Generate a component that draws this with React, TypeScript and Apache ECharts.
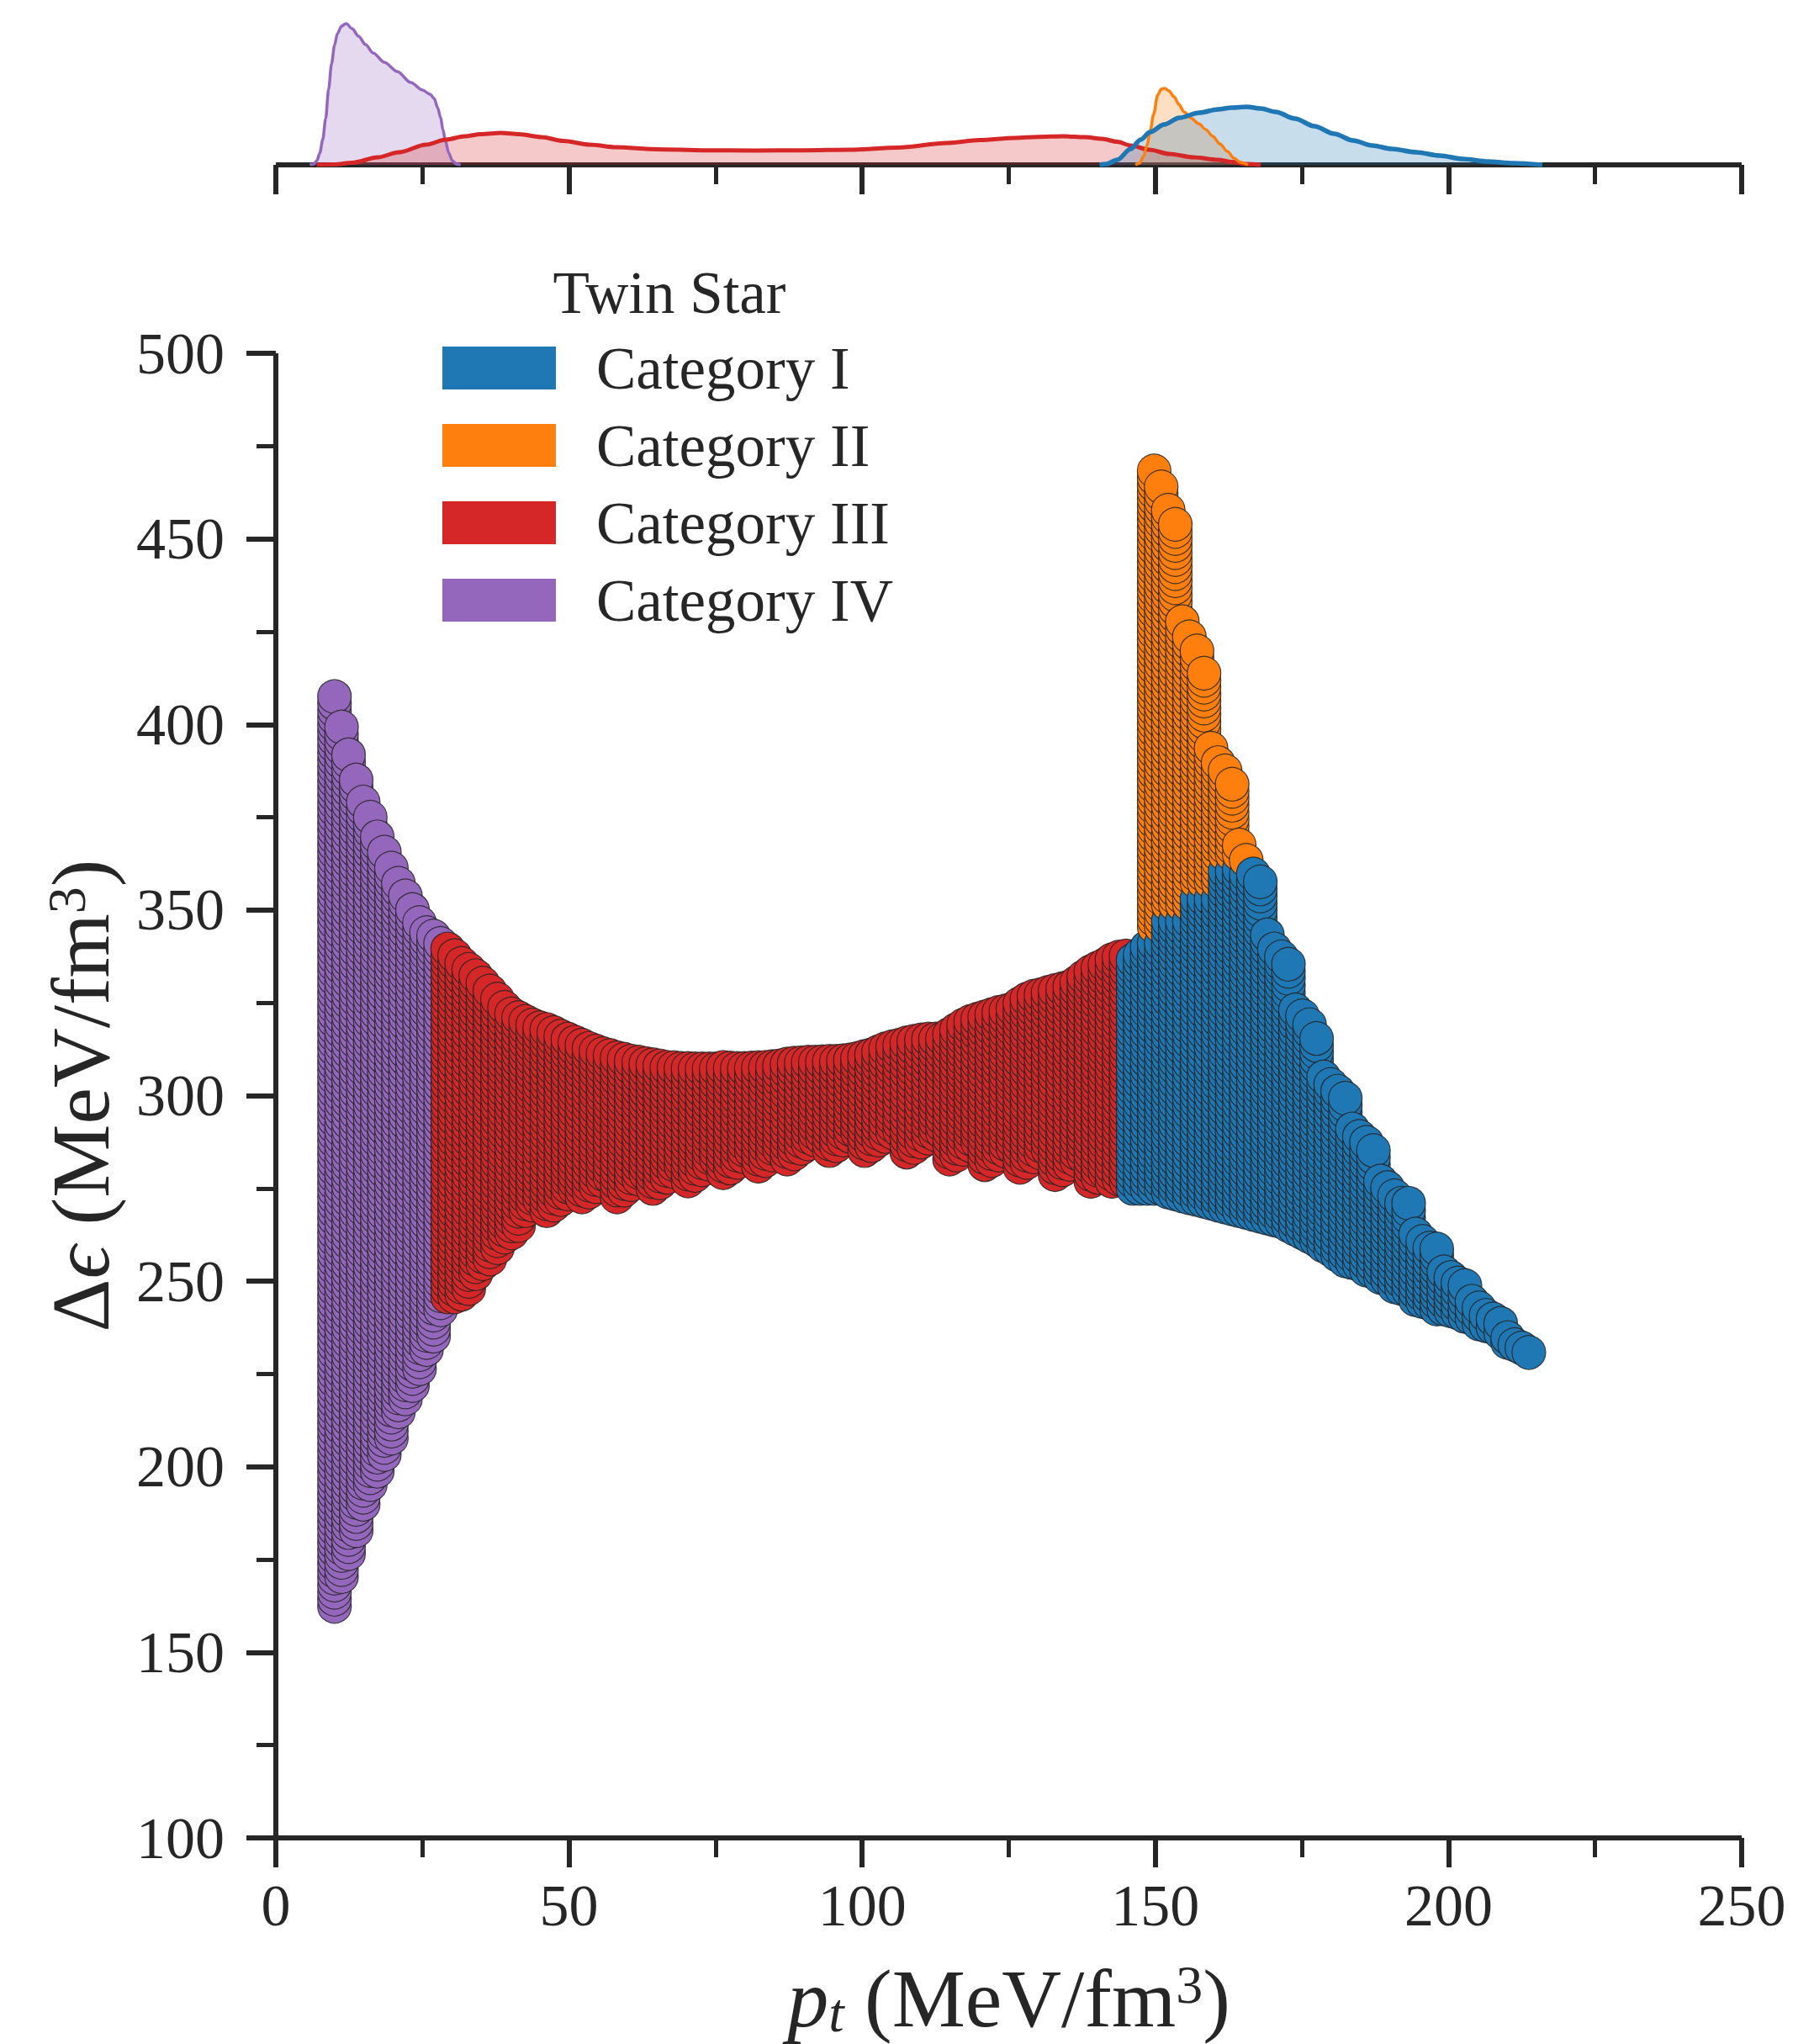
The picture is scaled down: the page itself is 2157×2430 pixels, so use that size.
import React, { useEffect, useRef } from 'react';
import * as echarts from 'echarts';

// ---------------------------------------------------------------------------
// Data: twin-star parameter scan, Δϵ versus p_t, split into four categories.
// Each scan column is [p_t, lowest Δϵ, highest Δϵ]; points in a column are
// spaced by ROW_STEP in Δϵ.
// ---------------------------------------------------------------------------
const CATEGORY_NAMES = ['Category I', 'Category II', 'Category III', 'Category IV'];
const CATEGORY_COLORS = ['#1f77b4', '#ff7f0e', '#d62728', '#9467bd'];
const ROW_STEP = 1.9;

const COLUMNS_IV = [
  [10.0, 162.4, 407.5], [11.2, 170.4, 399.3], [12.4, 176.6, 391.8], [13.7, 182.8, 385.0],
  [14.9, 189.9, 379.1], [16.1, 195.2, 375.0], [17.3, 198.8, 369.7], [18.5, 203.3, 365.6],
  [19.7, 207.7, 361.3], [20.9, 214.8, 357.2], [22.1, 218.3, 353.8], [23.3, 221.9, 350.1],
  [24.5, 226.4, 346.6], [25.7, 231.6, 343.9], [26.9, 235.2, 343.0], [28.1, 242.3, 341.0],
];

const COLUMNS_III = [
  [29.3, 245.8, 339.5], [30.5, 245.8, 337.7], [31.7, 246.5, 335.6], [32.9, 248.0, 334.0],
  [34.1, 252.0, 332.3], [35.3, 254.7, 330.3], [36.5, 256.0, 328.2], [37.8, 259.0, 326.0],
  [39.0, 261.9, 323.8], [40.2, 263.0, 322.0], [41.4, 265.0, 321.0], [42.6, 269.0, 320.0],
  [43.8, 270.5, 319.0], [45.0, 272.0, 318.3], [46.2, 269.0, 317.8], [47.4, 270.5, 317.0],
  [48.6, 272.0, 316.0], [49.8, 273.5, 315.2], [51.0, 275.0, 314.4], [52.2, 272.7, 313.6],
  [53.4, 274.0, 312.7], [54.6, 275.5, 312.0], [55.8, 277.0, 311.3], [57.0, 278.0, 310.8],
  [58.2, 272.7, 310.2], [59.4, 274.5, 309.8], [60.6, 276.0, 309.3], [61.9, 277.5, 309.0],
  [63.1, 279.0, 308.6], [64.3, 275.0, 308.3], [65.5, 276.5, 308.0], [66.7, 278.0, 307.6],
  [67.9, 279.5, 307.5], [69.1, 281.0, 307.3], [70.3, 277.0, 307.3], [71.5, 278.5, 307.2],
  [72.7, 280.0, 307.2], [73.9, 281.5, 307.2], [75.1, 283.0, 307.2], [76.3, 279.2, 307.6],
  [77.5, 280.5, 307.4], [78.7, 282.0, 307.3], [79.9, 283.5, 307.3], [81.1, 285.0, 307.4],
  [82.3, 281.0, 307.5], [83.5, 282.5, 307.6], [84.7, 284.0, 307.8], [85.9, 285.5, 308.0],
  [87.2, 282.9, 308.5], [88.4, 284.3, 308.7], [89.6, 285.8, 308.8], [90.8, 287.0, 309.0],
  [92.0, 288.0, 309.0], [93.2, 288.5, 309.1], [94.4, 285.2, 309.2], [95.6, 286.5, 309.2],
  [96.8, 288.0, 309.4], [98.0, 289.0, 309.6], [99.2, 290.0, 310.0], [100.4, 285.2, 310.5],
  [101.6, 286.5, 311.0], [102.8, 288.0, 311.8], [104.0, 289.0, 312.6], [105.2, 290.0, 313.2],
  [106.4, 290.5, 313.6], [107.6, 284.8, 314.2], [108.8, 286.0, 314.6], [110.1, 287.5, 315.0],
  [111.3, 288.5, 315.2], [112.5, 289.5, 315.2], [113.7, 290.0, 315.4], [114.9, 282.9, 316.5],
  [116.1, 284.0, 317.8], [117.3, 285.5, 319.0], [118.5, 286.5, 320.0], [119.7, 287.5, 320.6],
  [120.9, 281.4, 321.2], [122.1, 282.5, 321.8], [123.3, 284.0, 322.4], [124.5, 285.0, 322.8],
  [125.7, 286.0, 323.4], [126.9, 280.7, 324.8], [128.1, 282.0, 326.0], [129.3, 283.5, 326.8],
  [130.5, 284.5, 327.2], [131.7, 285.5, 327.8], [132.9, 278.7, 328.3], [134.2, 280.0, 328.8],
  [135.4, 281.5, 329.3], [136.6, 282.5, 330.5], [137.8, 283.5, 332.0], [139.0, 276.9, 333.4],
  [140.2, 278.0, 334.4], [141.4, 279.5, 335.3], [142.6, 276.9, 336.6], [143.8, 277.5, 337.3],
  [145.0, 277.0, 337.6],
];

const COLUMNS_I = [
  [146.2, 275.0, 336.5], [147.4, 275.0, 338.0], [148.6, 275.0, 340.0], [149.8, 275.0, 341.0],
  [151.0, 275.0, 341.0], [152.2, 274.0, 347.0], [153.4, 273.5, 347.0], [154.6, 273.0, 347.0],
  [155.8, 272.5, 347.0], [157.1, 272.0, 353.0], [158.3, 271.5, 353.0], [159.5, 271.0, 353.0],
  [160.7, 270.5, 353.0], [161.9, 270.0, 360.5], [163.1, 269.5, 360.5], [164.3, 269.0, 361.0],
  [165.5, 268.5, 359.5], [166.7, 268.0, 359.7], [167.9, 267.5, 357.6], [169.1, 267.0, 343.3],
  [170.3, 266.5, 339.5], [171.5, 266.0, 337.4], [172.7, 265.0, 335.4], [173.9, 264.0, 323.1],
  [175.1, 263.0, 321.5], [176.3, 262.0, 319.1], [177.5, 261.0, 315.4], [178.7, 259.5, 305.0],
  [179.9, 258.5, 303.0], [181.1, 257.0, 301.2], [182.4, 255.5, 299.3], [183.6, 255.0, 291.0],
  [184.8, 254.5, 289.0], [186.0, 253.0, 287.4], [187.2, 252.5, 285.2], [188.4, 251.0, 277.0],
  [189.6, 250.5, 275.2], [190.8, 248.5, 273.0], [192.0, 248.0, 271.0], [193.2, 247.5, 271.0],
  [194.4, 245.0, 262.7], [195.6, 244.5, 260.7], [196.8, 244.0, 258.9], [198.0, 242.5, 258.7],
  [199.2, 242.5, 252.5], [200.4, 242.0, 251.0], [201.6, 241.5, 249.5], [202.8, 240.5, 248.8],
  [204.0, 240.0, 244.6], [205.2, 238.5, 242.8], [206.4, 238.0, 240.8], [207.6, 237.5, 239.8],
  [208.9, 236.0, 238.6], [210.1, 233.5, 234.8], [211.3, 232.9, 232.9], [212.5, 232.0, 232.0],
  [213.7, 230.8, 230.8],
];

const COLUMNS_II = [
  [149.8, 345.5, 468.3], [151.0, 345.5, 464.0], [152.2, 351.5, 457.7], [153.4, 351.5, 453.9],
  [154.6, 351.5, 427.7], [155.8, 351.5, 423.6], [157.1, 357.5, 419.8], [158.3, 357.5, 413.8],
  [159.5, 357.5, 393.6], [160.7, 357.5, 389.7], [161.9, 365.0, 387.5], [163.1, 365.0, 383.9],
  [164.3, 365.0, 367.5], [165.5, 363.4, 363.4],
];

// Marginal density of p_t for each category (arbitrary units), [p_t, density]
const KDE_I = [
  [140.5, 0], [141.7, 1], [143.5, 6], [145.8, 19], [147.5, 30], [149.1, 39], [151.5, 48],
  [154.1, 56], [157.5, 62], [160.7, 66], [163.0, 68], [165.6, 69], [168.0, 67], [170.5, 63],
  [173.8, 55], [177.1, 46], [180.5, 37], [183.7, 29], [187.0, 23], [190.3, 19], [194.5, 15],
  [198.5, 11], [202.5, 7], [206.7, 4], [211.0, 2], [216.0, 0],
];
const KDE_II = [
  [146.6, 0], [147.3, 2], [148.0, 10], [148.6, 24], [149.1, 39], [149.7, 60], [150.4, 83],
  [151.0, 90], [151.6, 91], [152.3, 88], [153.2, 81], [154.0, 72], [154.9, 63], [156.0, 56],
  [157.4, 49], [158.6, 42], [159.8, 34], [161.0, 25], [162.3, 16], [163.4, 8], [164.5, 3],
  [165.8, 0],
];
const KDE_III = [
  [7, 0], [10, 0.5], [13, 2.5], [17.4, 9], [21, 15], [25.6, 24], [29, 30], [32.2, 34],
  [35, 36.5], [38.4, 38], [41.5, 36.5], [45.3, 33], [49, 28.5], [53.6, 24], [58, 21],
  [65.1, 18.5], [73, 17.3], [81.6, 17], [90, 17.3], [98.1, 18], [106, 20.5], [114.5, 26],
  [120, 29.5], [126.1, 32], [130, 33.3], [134.3, 34], [138, 33], [140.9, 31], [143.5, 27.5],
  [145.8, 23], [149, 18], [152.4, 13], [156.5, 9], [160.7, 6], [163, 3.5], [165.6, 1], [168, 0],
];
const KDE_IV = [
  [5.8, 0], [6.5, 1], [7.0, 5], [7.5, 14], [8.0, 30], [8.5, 55], [9.0, 90], [9.5, 120],
  [10.0, 142], [10.5, 156], [11.2, 165], [12.0, 168], [13.0, 162], [14.1, 153], [15.3, 143],
  [16.6, 133], [18.5, 122], [20.7, 111], [23.0, 98], [25.0, 89], [26.3, 84], [27.0, 79],
  [27.6, 68], [28.1, 56], [28.5, 42], [28.9, 29], [29.5, 14], [30.1, 5], [30.8, 1], [31.5, 0],
];

const X_TICKS = { min: 0, max: 250, interval: 50 };
const Y_TICKS = { min: 100, max: 500, interval: 50 };

// ---------------------------------------------------------------------------
const INK = '#262626';
const SERIF = "'Liberation Serif', 'DejaVu Serif', serif";

function columnPoints(columns: number[][], cat: number) {
  const pts: number[][] = [];
  for (const [x, lo, hi] of columns) {
    const n = Math.max(0, Math.round((hi - lo) / ROW_STEP));
    for (let i = 0; i <= n; i++) {
      pts.push([x, n === 0 ? lo : lo + ((hi - lo) * i) / n, cat]);
    }
  }
  return pts;
}

// Points are drawn column by column (increasing p_t), bottom to top.
const SCAN_POINTS = [
  ...columnPoints(COLUMNS_I, 0),
  ...columnPoints(COLUMNS_II, 1),
  ...columnPoints(COLUMNS_III, 2),
  ...columnPoints(COLUMNS_IV, 3),
].sort((a, b) => a[0] - b[0] || a[1] - b[1]);

const KDES = [
  { data: KDE_IV, cat: 3, width: 3.5 },
  { data: KDE_III, cat: 2, width: 5 },
  { data: KDE_II, cat: 1, width: 3.5 },
  { data: KDE_I, cat: 0, width: 5.5 },
];

function axisStyle() {
  return {
    axisLine: { show: true, onZero: false, lineStyle: { color: INK, width: 6, cap: 'butt' } },
    axisTick: { show: true, length: 35, lineStyle: { color: INK, width: 6 } },
    minorTick: { show: true, splitNumber: 2, length: 23, lineStyle: { color: INK, width: 5 } },
    splitLine: { show: false },
    minorSplitLine: { show: false },
  };
}

const NAME_SIZE = 98;
const nameRich = {
  it: { fontFamily: SERIF, fontSize: NAME_SIZE, lineHeight: NAME_SIZE, fontStyle: 'italic', color: INK },
  up: { fontFamily: SERIF, fontSize: NAME_SIZE, lineHeight: NAME_SIZE, color: INK },
  sub: { fontFamily: SERIF, fontSize: 66, lineHeight: 42, fontStyle: 'italic', verticalAlign: 'bottom', color: INK },
  sup: { fontFamily: SERIF, fontSize: 64, lineHeight: 54, verticalAlign: 'top', color: INK },
};

export default function App() {
  const ref = useRef<HTMLDivElement>(null);

  useEffect(() => {
    if (!ref.current) return;
    const chart = echarts.init(ref.current, null, { renderer: 'svg', width: 2157, height: 2430 });

    const option = {
      animation: false,
      backgroundColor: '#ffffff',
      grid: [
        { left: 328, top: 420, width: 1743, height: 1768 },
        { left: 328, top: 16, width: 1743, height: 180 },
      ],
      xAxis: [
        {
          type: 'value',
          gridIndex: 0,
          ...X_TICKS,
          ...axisStyle(),
          axisLabel: { fontFamily: SERIF, fontSize: 70, color: INK, margin: 45 },
          name: '{it|p}{sub|t}{up| (MeV/fm}{sup|3}{up|)}',
          nameLocation: 'middle',
          nameGap: 142,
          nameTextStyle: { fontFamily: SERIF, fontSize: NAME_SIZE, lineHeight: NAME_SIZE, color: INK, rich: nameRich },
        },
        {
          type: 'value',
          gridIndex: 1,
          ...X_TICKS,
          ...axisStyle(),
          axisLabel: { show: false },
        },
      ],
      yAxis: [
        {
          type: 'value',
          gridIndex: 0,
          ...Y_TICKS,
          ...axisStyle(),
          axisLabel: { fontFamily: SERIF, fontSize: 70, color: INK, margin: 61 },
          name: '{up|Δ}{it|ϵ}{up| (MeV/fm}{sup|3}{up|)}',
          nameLocation: 'middle',
          nameRotate: 90,
          nameGap: 183,
          nameTextStyle: { fontFamily: SERIF, fontSize: NAME_SIZE, lineHeight: NAME_SIZE, color: INK, rich: nameRich },
        },
        { type: 'value', gridIndex: 1, min: 0, max: 180, show: false },
      ],
      legend: {
        data: CATEGORY_NAMES.map((name) => ({ name, icon: 'rect' })),
        orient: 'vertical',
        left: 526,
        top: 402,
        padding: 0,
        itemWidth: 135,
        itemHeight: 51,
        itemGap: 21,
        selectedMode: false,
        textStyle: { fontFamily: SERIF, fontSize: 71, color: INK, padding: [0, 0, 0, 43] },
      },
      graphic: [
        {
          type: 'text',
          x: 796,
          y: 348,
          style: {
            text: 'Twin Star',
            fontFamily: SERIF,
            fontSize: 71,
            fill: INK,
            align: 'center',
            verticalAlign: 'middle',
          },
        },
      ],
      series: [
        ...KDES.map(({ data, cat, width }) => ({
          type: 'line',
          name: CATEGORY_NAMES[cat] + ' density',
          xAxisIndex: 1,
          yAxisIndex: 1,
          data,
          smooth: 0.3,
          smoothMonotone: 'x',
          symbol: 'none',
          lineStyle: { color: CATEGORY_COLORS[cat], width, join: 'round' },
          areaStyle: { color: CATEGORY_COLORS[cat], opacity: 0.25 },
          silent: true,
        })),
        {
          type: 'scatter',
          name: 'Twin Star scan',
          xAxisIndex: 0,
          yAxisIndex: 0,
          data: SCAN_POINTS,
          symbol: 'circle',
          symbolSize: 40,
          progressive: 0,
          large: false,
          clip: false,
          silent: true,
          itemStyle: {
            color: (p: any) => CATEGORY_COLORS[p.value[2]],
            borderColor: 'rgba(35,35,35,0.85)',
            borderWidth: 1.2,
            opacity: 1,
          },
        },
        // Legend entries
        ...CATEGORY_NAMES.map((name, i) => ({
          type: 'scatter',
          name,
          xAxisIndex: 0,
          yAxisIndex: 0,
          data: [],
          itemStyle: { color: CATEGORY_COLORS[i], opacity: 1 },
        })),
      ],
    };

    chart.setOption(option as any);
    return () => chart.dispose();
  }, []);

  return (
    <div
      ref={ref}
      style={{ position: 'absolute', left: 0, top: 0, width: 2157, height: 2430, background: '#ffffff' }}
    />
  );
}
